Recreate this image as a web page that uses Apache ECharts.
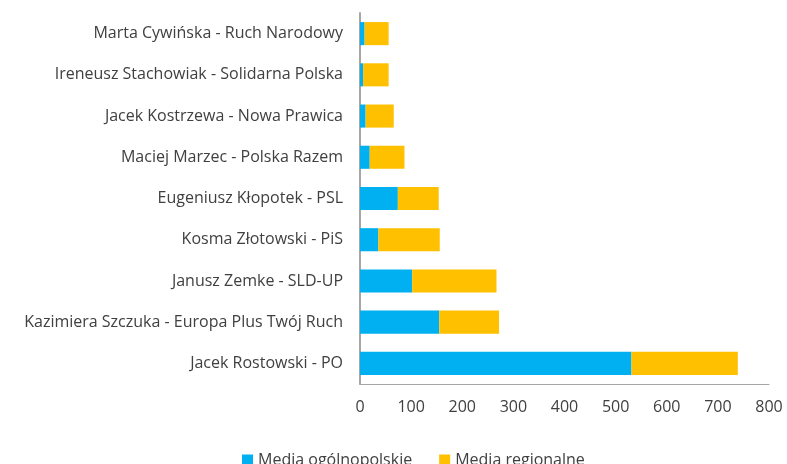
<!DOCTYPE html>
<html>
<head>
<meta charset="utf-8">
<script src="https://cdn.jsdelivr.net/npm/echarts@6/dist/echarts.min.js"></script>
<style>
  html, body { margin: 0; padding: 0; background: #fff; }
  #chart { width: 787px; height: 464px; }
</style>
</head>
<body>
<div id="chart"></div>
<script>
// categories listed bottom to top (as echarts category axis draws them)
var candidates = [
  "Jacek Rostowski - PO",
  "Kazimiera Szczuka - Europa Plus Twój Ruch",
  "Janusz Zemke - SLD-UP",
  "Kosma Złotowski - PiS",
  "Eugeniusz Kłopotek - PSL",
  "Maciej Marzec - Polska Razem",
  "Jacek Kostrzewa - Nowa Prawica",
  "Ireneusz Stachowiak - Solidarna Polska",
  "Marta Cywińska - Ruch Narodowy"
];
var national = [531, 155, 102, 36, 74, 19, 11, 6, 9];
var regional = [208, 117, 165, 120, 80, 68, 55, 50, 47];
var xTicks = [0, 100, 200, 300, 400, 500, 600, 700, 800];

var chart = echarts.init(document.getElementById("chart"));
var font = "'Open Sans', 'Liberation Sans', sans-serif";

var option = {
  animation: false,
  textStyle: { fontFamily: font },
  grid: { left: 360, right: 18, top: 13, bottom: 80, containLabel: false },
  legend: {
    top: 447,
    left: 237,
    itemWidth: 11,
    itemHeight: 11,
    itemGap: 27,
    icon: "rect",
    textStyle: { fontSize: 16, color: "#404040", fontFamily: font },
    data: ["Media ogólnopolskie", "Media regionalne"]
  },
  xAxis: {
    type: "value",
    min: xTicks[0],
    max: xTicks[xTicks.length - 1],
    interval: 100,
    axisLine: { show: true, lineStyle: { color: "#a6a6a6", width: 1 } },
    axisTick: { show: false },
    splitLine: { show: false },
    axisLabel: { color: "#404040", fontSize: 16, margin: 15, fontFamily: font }
  },
  yAxis: {
    type: "category",
    data: candidates,
    axisLine: { show: true, lineStyle: { color: "#a6a6a6", width: 2 } },
    axisTick: { show: false },
    axisLabel: { color: "#404040", fontSize: 16, margin: 17, fontFamily: font }
  },
  series: [
    {
      name: "Media ogólnopolskie",
      type: "bar",
      stack: "total",
      barWidth: "56%",
      itemStyle: { color: "#00B0F0" },
      data: national
    },
    {
      name: "Media regionalne",
      type: "bar",
      stack: "total",
      barWidth: "56%",
      itemStyle: { color: "#FFC000" },
      data: regional
    }
  ]
};
chart.setOption(option);
</script>
</body>
</html>
